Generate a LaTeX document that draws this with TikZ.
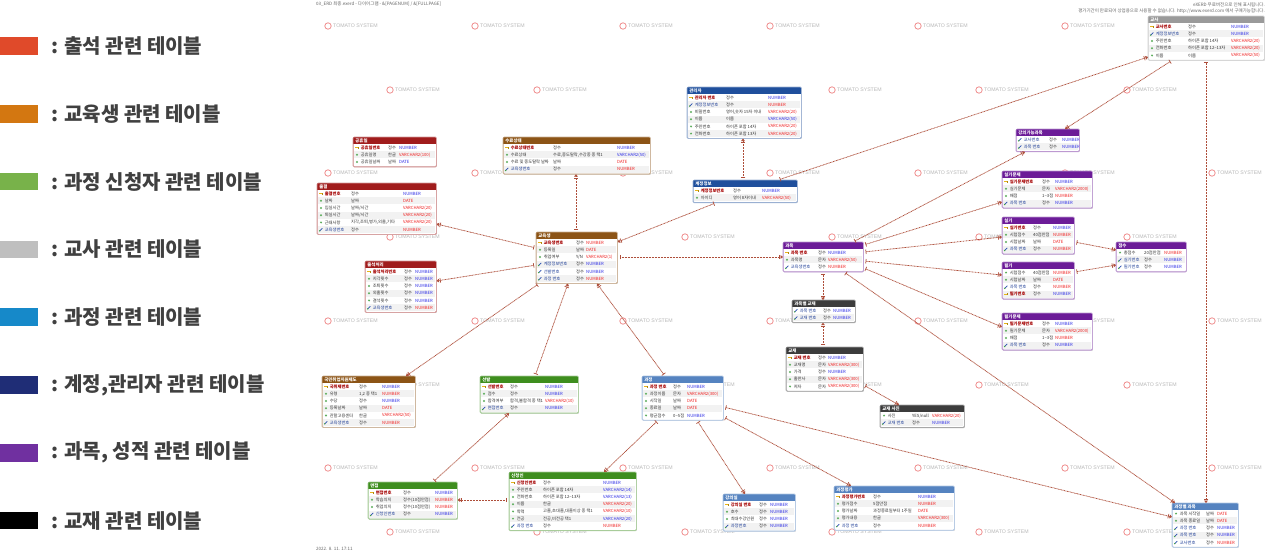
\documentclass[tikz,border=0pt]{standalone}
\usepackage{fontspec}
\setmainfont{Noto Sans CJK KR}
\newfontfamily\latinfont{Liberation Sans}
\usetikzlibrary{arrows.meta,calc}

% header colours of the table groups
\definecolor{hdRed}{HTML}{A01C1C}
\definecolor{hdBrown}{HTML}{8C5416}
\definecolor{hdGreen}{HTML}{3E8E1E}
\definecolor{hdSteel}{HTML}{5583C0}
\definecolor{hdNavy}{HTML}{1F4F9C}
\definecolor{hdGray}{HTML}{9A9A9A}
\definecolor{hdPurple}{HTML}{6C1C98}
\definecolor{hdDark}{HTML}{3C3C3C}
% column text colours
\definecolor{nmpk}{HTML}{A50000}
\definecolor{nmfk}{HTML}{1C3C96}
\definecolor{nmat}{HTML}{333333}
\definecolor{tyb}{HTML}{2B2BE6}
\definecolor{tyr}{HTML}{F02020}
\definecolor{descc}{HTML}{333333}
\definecolor{rowgray}{HTML}{F2F2F2}
\definecolor{keyc}{HTML}{E8B418}
\definecolor{fkc}{HTML}{2A4FB0}
\definecolor{fkg}{HTML}{3FA040}
\definecolor{atc}{HTML}{5DAE5D}
\definecolor{relc}{HTML}{AE4E3A}
\definecolor{wmc}{HTML}{F09090}
\definecolor{wmtext}{HTML}{B8B8B8}
\definecolor{legtext}{HTML}{404040}
% legend colours
\definecolor{lgAtt}{HTML}{E04A2A}
\definecolor{lgStu}{HTML}{D37711}
\definecolor{lgApp}{HTML}{78B24A}
\definecolor{lgTea}{HTML}{BFBFBF}
\definecolor{lgCou}{HTML}{1689C9}
\definecolor{lgAcc}{HTML}{1F2D76}
\definecolor{lgSub}{HTML}{7030A0}
\definecolor{lgBook}{HTML}{000000}

\def\nmfpk{\bfseries}
\def\nmffk{}
\def\nmfat{}
\newcommand\cellfont{\fontsize{4.25}{5}\selectfont}

\tikzset{
  tablebox/.style={anchor=north west, fill=white, rounded corners=1.2pt,
    line width=0.6pt, inner sep=0pt},
  cell/.style={anchor=west, inner sep=0pt, font=\cellfont},
  hdtext/.style={anchor=west, inner sep=0pt, text=white,
    font=\fontsize{4.4}{5}\selectfont\bfseries},
  rel/.style={draw=relc, line width=0.75pt, dash pattern=on 0.9pt off 0.6pt,
    {Bar[width=4.5pt,line width=0.7pt,sep=2pt]}-{Bar[width=4.5pt,line width=0.7pt,sep=1pt]Triangle[length=2.4pt,width=3.6pt]}},
  wm/.style={anchor=west, inner sep=0pt, text=wmtext,
    font=\latinfont\fontsize{5.2}{6}\selectfont},
  legsq/.style={anchor=west, minimum width=38pt, minimum height=17.5pt, inner sep=0pt},
  legtx/.style={anchor=west, inner sep=0pt, text=legtext,
    font=\fontsize{20}{22}\selectfont\bfseries},
  icopk/.pic={\fill[keyc] (-1.6,-0.55) rectangle (1.4,0.55);
              \fill[keyc!75!black] (0.8,-1.0) rectangle (1.8,1.0);},
  icofk/.pic={\draw[fkc,line width=0.7pt] (-1.3,1.3) -- (1.3,-1.3);
              \fill[fkg] (-1.3,1.3) circle (0.75);},
  icoat/.pic={\fill[atc] (0,0) circle (1.1);},
}

% \erdtable{name}{x}{y}{width}{colour}{title}{desc column}{type column}{rows}
% each row: kind/name/description/type/type colour (kind: pk, fk, at)
\newcommand\erdtable[9]{%
  \def\erdN{0}%
  \foreach \r in {#9} {\xdef\erdN{\the\numexpr\erdN+1\relax}}%
  \pgfmathsetmacro\erdH{7+7.2*\erdN+0.8}%
  \fill[black!10] (#2+0.9,#3+0.9) rectangle ++(#4,\erdH);
  \node[tablebox, draw=#5!45, minimum width=#4pt, minimum height=\erdH pt] (#1) at (#2,#3) {};
  \fill[#5] (#2+0.3,#3+0.3) rectangle (#2+#4-0.3,#3+7);
  \node[hdtext] (#1-title) at (#2+2.2,#3+3.7) {#6};
  \foreach \k/\nm/\ds/\ty/\tc [count=\i from 0] in {#9} {
    \pgfmathsetmacro\ry{#3+7+7.2*\i}
    \ifodd\i \fill[rowgray] (#2+0.6,\ry) rectangle (#2+#4-0.6,\ry+7.2); \fi
    \edef\doicon{\noexpand\pic at (#2+4,\ry+3.6) {ico\k};}\doicon
    \node[cell, text=nm\k] (#1-n\i) at (#2+7.6,\ry+3.7) {\csname nmf\k\endcsname\nm};
    \node[cell, text=descc] (#1-d\i) at (#2+#7,\ry+3.7) {\ds};
    \node[cell, text=ty\tc] (#1-t\i) at (#2+#8,\ry+3.7) {\ty};
  }
  \draw[#5!45, line width=0.6pt, rounded corners=1.2pt] (#1.north west) rectangle (#1.south east);
}

\begin{document}
\begin{tikzpicture}[x=1pt,y=-1pt]
\useasboundingbox[fill=white] (0,0) rectangle (1269,554);

% ---------- legend ----------
\foreach \c/\t [count=\j from 0] in {
  lgAtt/출석 관련 테이블, lgStu/교육생 관련 테이블, lgApp/과정 신청자 관련 테이블,
  lgTea/교사 관련 테이블, lgCou/과정 관련 테이블, lgAcc/{계정,관리자 관련 테이블},
  lgSub/{과목, 성적 관련 테이블}, lgBook/교재 관련 테이블} {
  \pgfmathsetmacro\ly{46+67.8*\j}
  \node[legsq, fill=\c] (legsq\j) at (0,\ly) {};
  \node[legtx] (legtx\j) at (51,\ly) {: \t};
}

% ---------- page texts ----------
\node[anchor=west, inner sep=0pt, text=black!60, font=\fontsize{4.5}{5}\selectfont]
  (pagehead) at (316,4.5) {03\_ERD 최종.exerd - 다이어그램 - \&[PAGENUM] / \&[FULLPAGE]};
\node[anchor=east, inner sep=0pt, text=black!60, font=\fontsize{4.5}{5}\selectfont]
  (eval1) at (1265,5) {eXERD 무료버전으로 인해 표시됩니다.};
\node[anchor=east, inner sep=0pt, text=black!60, font=\fontsize{4.5}{5}\selectfont]
  (eval2) at (1265,11) {평가기간이 만료되어 상업용으로 사용할 수 없습니다. http://www.exerd.com 에서 구매가능합니다.};
\node[anchor=west, inner sep=0pt, text=black!60, font=\fontsize{4.5}{5}\selectfont]
  (pagedate) at (316,549) {2022. 8. 11. 17:11};

% ---------- watermarks (the ones wholly under a table are left out) ----------
\foreach \wx/\wy in {
  328/26, 475/26, 623/26, 770/26, 918/26, 1065/26,
  328/173, 475/173, 623/173, 770/173, 918/173, 1065/173, 1212/173,
  328/321, 475/321, 623/321, 770/321, 918/321, 1065/321, 1212/321,
  328/468, 475/468, 623/468, 770/468, 918/468, 1065/468, 1212/468,
  390/90, 537/90, 832/90, 979/90, 1127/90,
  390/237, 685/237, 832/237, 979/237, 1127/237,
  390/385, 685/385, 832/385, 979/385, 1127/385,
  390/532, 537/532, 685/532, 832/532, 979/532, 1127/532} {
  \draw[wmc, line width=0.8pt] (\wx,\wy) circle (3.2);
  \node[wm] (wm-\wx-\wy) at (\wx+5,\wy) {TOMATO SYSTEM};
}

% ---------- tables ----------
\erdtable{hol}{353}{137}{83}{hdRed}{공휴일}{35}{46}{
  pk/공휴일번호/정수/NUMBER/b, at/공휴일명/한글/VARCHAR2(100)/r, at/공휴일날짜/날짜/DATE/b}
\erdtable{cg}{317}{183}{119}{hdRed}{출결}{34}{86}{
  pk/출결번호/정수/NUMBER/b, at/날짜/날짜/DATE/r, at/입실시간/{날짜/시간}/VARCHAR2(20)/r,
  at/퇴실시간/{날짜/시간}/VARCHAR2(20)/r, at/근태사항/{지각,조퇴,병가,외출,기타}/VARCHAR2(20)/r,
  fk/교육생번호/정수/NUMBER/r}
\erdtable{cp}{365}{261}{71}{hdRed}{출석처리}{39}{50}{
  pk/출석처리번호/정수/NUMBER/b, at/지각횟수/정수/NUMBER/b, at/조퇴횟수/정수/NUMBER/b,
  at/외출횟수/정수/NUMBER/b, at/결석횟수/정수/NUMBER/b, fk/교육생번호/정수/NUMBER/r}
\erdtable{sr}{503}{137}{147}{hdBrown}{수료상태}{50}{114}{
  pk/수료상태번호/정수/NUMBER/b, at/수료상태/{수료,중도탈락,수강중 중 택1}/VARCHAR2(50)/b,
  at/수료 및 중도탈락 날짜/날짜/DATE/r, fk/교육생번호/정수/NUMBER/r}
\erdtable{st}{536}{232}{81}{hdBrown}{교육생}{40}{50}{
  pk/교육생번호/정수/NUMBER/r, at/등록일/날짜/DATE/r, at/취업여부/{Y/N}/VARCHAR2(1)/r,
  fk/계정정보번호/정수/NUMBER/b, fk/선발번호/정수/NUMBER/b, fk/과정 번호/정수/NUMBER/r}
\erdtable{emp}{322}{376}{93}{hdBrown}{국민취업지원제도}{37}{60}{
  pk/국취제번호/정수/NUMBER/b, at/유형/{1,2 중 택1}/NUMBER/r, at/수당/정수/NUMBER/b,
  at/등록날짜/날짜/DATE/r, at/관할고용센터/한글/VARCHAR2(50)/r, fk/교육생번호/정수/NUMBER/r}
\erdtable{adm}{687}{87}{114}{hdNavy}{관리자}{39}{81}{
  pk/관리자 번호/정수/NUMBER/b, fk/계정정보번호/정수/NUMBER/r,
  at/비밀번호/{영어,숫자 15자 이내}/VARCHAR2(20)/r, at/이름/이름/VARCHAR2(50)/b,
  at/주민번호/하이픈 포함 14자/VARCHAR2(20)/r, at/전화번호/하이픈 포함 13자/VARCHAR2(20)/r}
\erdtable{acc}{693}{180}{104}{hdNavy}{계정정보}{40}{69}{
  pk/계정정보번호/정수/NUMBER/b, at/아이디/영어 8자이내/VARCHAR2(50)/r}
\erdtable{tr}{1148}{16}{116}{hdGray}{교사}{40}{83}{
  pk/교사번호/정수/NUMBER/b, fk/계정정보번호/정수/NUMBER/b,
  at/주민번호/하이픈 포함 14자/VARCHAR2(20)/r,
  at/전화번호/하이픈 포함 12\textasciitilde13자/VARCHAR2(20)/r, at/이름/이름/VARCHAR2(50)/r}
\erdtable{ts}{1016}{129}{63}{hdPurple}{강의가능과목}{33}{46}{
  fk/교사번호/정수/NUMBER/b, fk/과목 번호/정수/NUMBER/b}
\erdtable{pq}{1002}{171}{90}{hdPurple}{실기문제}{40}{53}{
  pk/실기문제번호/정수/NUMBER/b, at/실기문제/문자/VARCHAR2(2000)/r,
  at/배점/1\textasciitilde3점/NUMBER/r, fk/과목 번호/정수/NUMBER/b}
\erdtable{pt}{1002}{217}{72}{hdPurple}{실기}{31}{51}{
  pk/실기번호/정수/NUMBER/b, at/시험점수/40점만점/NUMBER/r, at/시험날짜/날짜/DATE/r,
  fk/과목 번호/정수/NUMBER/r}
\erdtable{wt}{1002}{262}{72}{hdPurple}{필기}{31}{51}{
  at/시험점수/40점만점/NUMBER/r, at/시험날짜/날짜/DATE/r, fk/과목 번호/정수/NUMBER/r,
  pk/필기번호/정수/NUMBER/b}
\erdtable{wq}{1002}{313}{90}{hdPurple}{필기문제}{40}{53}{
  pk/필기문제번호/정수/NUMBER/b, at/필기문제/문자/VARCHAR2(2000)/r,
  at/배점/1\textasciitilde3점/NUMBER/r, fk/과목 번호/정수/NUMBER/b}
\erdtable{sc}{1116}{242}{70}{hdPurple}{점수}{28}{48}{
  at/총점수/20점만점/NUMBER/r, fk/실기번호/정수/NUMBER/b, fk/필기번호/정수/NUMBER/b}
\erdtable{sb}{783}{242}{80}{hdPurple}{과목}{35}{45}{
  pk/과목 번호/정수/NUMBER/b, at/과목명/문자/VARCHAR2(50)/r, fk/교육생번호/정수/NUMBER/r}
\erdtable{sbb}{792}{300}{63}{hdDark}{과목별 교재}{31}{41}{
  fk/과목 번호/정수/NUMBER/b, fk/교재 번호/정수/NUMBER/b}
\erdtable{bk}{786}{347}{77}{hdDark}{교재}{32}{42}{
  pk/교재 번호/정수/NUMBER/b, at/교재명/문자/VARCHAR2(300)/r, at/가격/정수/NUMBER/b,
  at/출판사/문자/VARCHAR2(300)/r, at/저자/문자/VARCHAR2(300)/r}
\erdtable{bkp}{880}{405}{84}{hdDark}{교재 사진}{32}{52}{
  at/사진/{YES/null}/VARCHAR2(20)/r, fk/교재 번호/정수/NUMBER/b}
\erdtable{cs}{642}{376}{81}{hdSteel}{과정}{31}{45}{
  pk/과정 번호/정수/NUMBER/b, at/과정이름/문자/VARCHAR2(300)/r, at/시작일/날짜/DATE/r,
  at/종료일/날짜/DATE/r, at/평균점수/0\textasciitilde5점/NUMBER/b}
\erdtable{rm}{723}{494}{72}{hdSteel}{강의실}{36}{47}{
  pk/강의실 번호/정수/NUMBER/b, at/호수/정수/NUMBER/b, at/최대수강인원/정수/NUMBER/b,
  fk/과정번호/정수/NUMBER/b}
\erdtable{ev}{834}{486}{120}{hdSteel}{과정평가}{39}{84}{
  pk/과정평가번호/정수/NUMBER/b, at/평가점수/5점만점/NUMBER/r,
  at/평가날짜/과정종료일부터 1주일/DATE/r, at/평가내용/한글/VARCHAR2(300)/r,
  fk/과정 번호/정수/NUMBER/r}
\erdtable{csb}{1172}{503}{66}{hdSteel}{과정별 과목}{34}{45}{
  at/과목 시작일/날짜/DATE/r, at/과목 종료일/날짜/DATE/r, fk/과정 번호/정수/NUMBER/b,
  fk/과목 번호/정수/NUMBER/b, fk/교사번호/정수/NUMBER/r}
\erdtable{sel}{480}{376}{98}{hdGreen}{선발}{30}{65}{
  pk/선발번호/정수/NUMBER/b, at/점수/정수/NUMBER/b,
  at/합격여부/{합격,불합격 중 택1}/VARCHAR2(10)/r, fk/면접번호/정수/NUMBER/b}
\erdtable{itv}{368}{482}{89}{hdGreen}{면접}{35}{67}{
  pk/면접번호/정수/NUMBER/b, at/학습의지/정수(10점만점)/NUMBER/r,
  at/취업의지/정수(10점만점)/NUMBER/r, fk/신청인번호/정수/NUMBER/b}
\erdtable{app}{509}{472}{127}{hdGreen}{신청인}{34}{94}{
  pk/신청인번호/정수/NUMBER/b, at/주민번호/하이픈 포함 14자/VARCHAR2(14)/b,
  at/전화번호/하이픈 포함 12\textasciitilde13자/VARCHAR2(13)/b, at/이름/한글/VARCHAR2(20)/r,
  at/학력/{고졸,초대졸,대졸이상 중 택1}/VARCHAR2(10)/r, at/전공/{전공,비전공 택1}/VARCHAR2(20)/b,
  fk/과정 번호/정수/NUMBER/r}

% ---------- relationships (parent -> child) ----------
\draw[rel] ($(st.north west)+(0,16)$) -- ($(cg.north east)+(0,41)$);
\draw[rel] ($(st.north west)+(0,33)$) -- ($(cp.north east)+(0,20)$);
\draw[rel] ($(st.north west)+(40,0)$) -- ($(sr.south west)+(73,0)$);
\draw[rel] ($(acc.south west)+(23,0)$) -- ($(st.north east)+(0,10)$);
\draw[rel] ($(acc.north west)+(50,0)$) -- ($(adm.south west)+(56,0)$);
\draw[rel] ($(st.north east)+(0,25)$) -- ($(sb.north west)+(0,15)$);
\draw[rel] ($(st.south west)+(3,0)$) -- ($(emp.north west)+(84,0)$);
\draw[rel] ($(sel.north west)+(55,0)$) -- ($(st.south west)+(32,0)$);
\draw[rel] ($(cs.north west)+(23,0)$) -- ($(st.south west)+(61,0)$);
\draw[rel] ($(itv.north west)+(65,0)$) -- ($(sel.south west)+(29,0)$);
\draw[rel] ($(app.north west)+(0,28)$) -- ($(itv.north east)+(0,18)$);
\draw[rel] ($(cs.south west)+(16,0)$) -- ($(app.north west)+(95,0)$);
\draw[rel] ($(cs.south west)+(55,0)$) -- ($(rm.north west)+(22,0)$);
\draw[rel] ($(cs.north east)+(0,31)$) -- ($(csb.north west)+(0,14)$);
\draw[rel] ($(cs.north east)+(0,41)$) -- ($(ev.north west)+(17,0)$);
\draw[rel] ($(sb.south west)+(40,0)$) -- ($(sbb.north west)+(31,0)$);
\draw[rel] ($(bk.north west)+(37,0)$) -- ($(sbb.south west)+(31,0)$);
\draw[rel] ($(bk.north east)+(0,38)$) -- ($(bkp.north west)+(19,0)$);
\draw[rel] ($(sb.south west)+(61,0)$) -- ($(csb.north west)+(3,0)$);
\draw[rel] ($(sb.north west)+(70,0)$) -- ($(ts.south west)+(9,0)$);
\draw[rel] ($(tr.south west)+(24,0)$) -- ($(ts.north west)+(49,0)$);
\draw[rel] ($(acc.north west)+(85,0)$) -- ($(tr.north west)+(0,41)$);
\draw[rel] ($(sb.north east)+(0,3)$) -- ($(pq.north west)+(0,31)$);
\draw[rel] ($(sb.north east)+(0,10)$) -- ($(pt.north west)+(0,20)$);
\draw[rel] ($(sb.north east)+(0,19)$) -- ($(wt.north west)+(0,13)$);
\draw[rel] ($(sb.north east)+(0,26)$) -- ($(wq.north west)+(0,14)$);
\draw[rel] ($(pt.north east)+(0,25)$) -- ($(sc.north west)+(0,8)$);
\draw[rel] ($(wt.north east)+(0,10)$) -- ($(sc.north west)+(0,23)$);
\draw[rel] ($(tr.south west)+(58,0)$) -- ($(csb.north west)+(34,0)$);
\end{tikzpicture}
\end{document}
